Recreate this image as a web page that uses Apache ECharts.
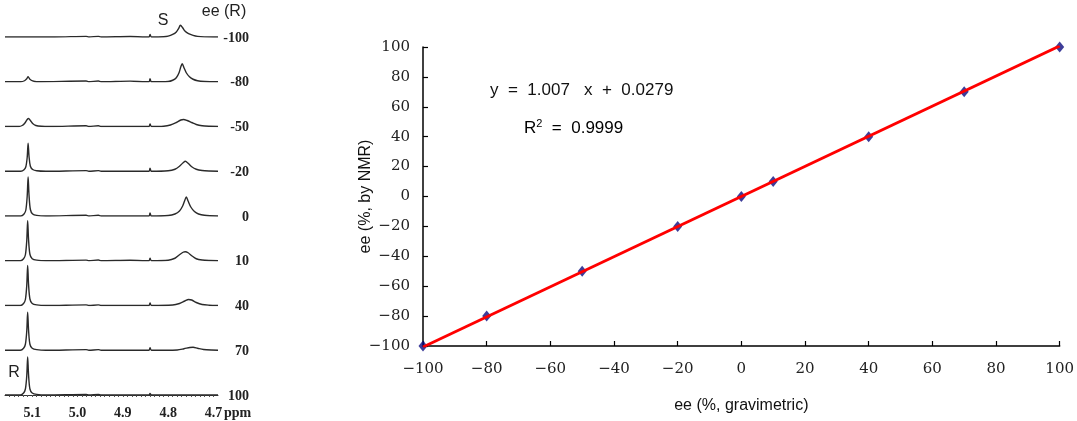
<!DOCTYPE html>
<html>
<head>
<meta charset="utf-8">
<script src="https://cdn.jsdelivr.net/npm/echarts@6.0.0/dist/echarts.min.js"></script>
<style>
  html, body { margin: 0; padding: 0; background: #fff; }
  #chart { width: 1077px; height: 421px; }
</style>
</head>
<body>
<div id="chart"></div>
<script>
// NMR spectra, [ppm, peak height], top (-100) to bottom (100)
const specLabels = ['-100', '-80', '-50', '-20', '0', '10', '40', '70', '100'];

const spec_m100 = [[5.16,0],[5.05,0],[4.981,0.8],[4.975,0],[4.954,0.8],[4.948,0],[4.884,0.6],[4.85,0],[4.842,0],[4.840,3],[4.837,0],
  [4.81,0.3],[4.80,1],[4.79,3],[4.782,6],[4.777,10],[4.773,14],[4.768,11],[4.763,7],[4.755,4],[4.745,2],[4.735,0.8],[4.72,0.2],[4.69,0]];
const spec_m80 = [[5.16,0],[5.125,0],[5.117,1],[5.112,3],[5.109,5],[5.105,2.5],[5.099,0.8],[5.09,0],[4.981,0.8],[4.975,0],[4.954,0.8],[4.948,0],
  [4.884,0.6],[4.85,0],[4.842,0],[4.840,3],[4.837,0],[4.80,0.3],[4.79,1.5],[4.782,4],[4.776,9],[4.772,15],[4.769,18],[4.765,14],[4.760,9],
  [4.753,5],[4.745,2.5],[4.735,1],[4.72,0.3],[4.69,0]];
const spec_m50 = [[5.16,0],[5.13,0],[5.122,1],[5.116,3.5],[5.111,7],[5.108,8],[5.104,6],[5.099,3],[5.092,1],[5.08,0.2],[5.06,0],[4.981,0.8],
  [4.975,0],[4.954,0.8],[4.948,0],[4.85,0],[4.842,0],[4.840,2.5],[4.837,0],[4.81,0.3],[4.795,1.5],[4.782,4],[4.772,6.5],[4.766,7],[4.758,6],
  [4.748,4],[4.738,2],[4.725,0.7],[4.71,0.2],[4.69,0]];
const spec_m20 = [[5.16,0],[5.125,0],[5.118,1.5],[5.114,4.5],[5.111,14],[5.109,28],[5.107,15],[5.104,5],[5.099,1.8],[5.09,0.5],[5.07,0],
  [4.981,0.6],[4.975,0],[4.954,0.6],[4.948,0],[4.85,0],[4.842,0],[4.840,3],[4.837,0],[4.80,0.5],[4.785,2],[4.775,5],[4.767,8.5],[4.762,10],
  [4.756,8],[4.748,4.5],[4.738,2],[4.725,0.7],[4.71,0.2],[4.69,0]];
const spec_0 = [[5.16,0],[5.125,0],[5.118,2],[5.114,6],[5.111,20],[5.109,39],[5.107,21],[5.104,6.5],[5.099,2],[5.09,0.6],[5.07,0],[4.981,0.8],
  [4.975,0],[4.954,0.8],[4.948,0],[4.85,0],[4.842,0],[4.840,3],[4.837,0],[4.80,0.5],[4.785,2],[4.775,5],[4.768,10],[4.763,16],[4.760,19],
  [4.756,15],[4.750,9],[4.742,4.5],[4.733,2],[4.72,0.7],[4.69,0]];
const spec_10 = [[5.16,0],[5.126,0],[5.119,2],[5.115,6],[5.112,20],[5.110,40],[5.108,21],[5.105,6.5],[5.100,2],[5.09,0.6],[5.07,0],[4.981,0.6],
  [4.975,0],[4.954,0.8],[4.948,0],[4.884,0.5],[4.85,0],[4.842,0],[4.840,2.5],[4.837,0],[4.80,0.5],[4.785,2.5],[4.775,6],[4.767,8.5],[4.762,9],
  [4.756,8],[4.748,5],[4.738,2],[4.725,0.7],[4.71,0.2],[4.69,0]];
const spec_40 = [[5.16,0],[5.126,0],[5.119,2],[5.115,6],[5.112,20],[5.110,40],[5.108,21],[5.105,6.5],[5.100,2],[5.09,0.6],[5.07,0],[4.981,0.6],
  [4.975,0],[4.954,0.6],[4.948,0],[4.85,0],[4.842,0],[4.840,2.5],[4.837,0],[4.79,0.5],[4.775,2],[4.763,4.5],[4.755,6],[4.748,5.5],[4.738,3],
  [4.725,1],[4.71,0.3],[4.69,0]];
const spec_70 = [[5.16,0],[5.126,0],[5.119,2],[5.115,6],[5.112,19],[5.110,38],[5.108,20],[5.105,6],[5.100,2],[5.09,0.6],[5.07,0],[4.981,0.6],
  [4.975,0],[4.954,0.6],[4.948,0],[4.85,0],[4.842,0],[4.840,2.5],[4.837,0],[4.78,0.3],[4.765,1.5],[4.752,2.8],[4.745,3],[4.735,2],[4.722,0.8],
  [4.705,0.2],[4.69,0]];
const spec_100 = [[5.16,0],[5.126,0],[5.119,2],[5.115,6],[5.112,19],[5.110,38],[5.108,20],[5.105,6],[5.100,2],[5.09,0.6],[5.07,0],[4.981,0.5],
  [4.975,0],[4.954,0.5],[4.948,0],[4.85,0],[4.842,0],[4.840,1.5],[4.837,0],[4.69,0]];
const spectra = [spec_m100, spec_m80, spec_m50, spec_m20, spec_0, spec_10, spec_40, spec_70, spec_100];

// calibration plot
const eeGrav = [-100, -80, -50, -20, 0, 10, 40, 70, 100];
const eeNMR = [-100, -80, -50, -20, 0, 10, 40, 70, 100];
const fitSlope = 1.007;
const fitIntercept = 0.0279;
const fitRange = [-100, 100];

const chart = echarts.init(document.getElementById('chart'));

const minus = v => String(v).replace('-', '\u2212');
const specFont = { fontFamily: 'Liberation Serif', fontWeight: 'bold', fontSize: 14, color: '#222' };

let grids = [], xAxes = [], yAxes = [], series = [], graphics = [];

spectra.forEach((d, i) => {
  const base = 37 + i * 44.75;
  const last = i === spectra.length - 1;
  grids.push({ left: 5, width: 213, top: base - 44, height: 44 });
  xAxes.push({
    gridIndex: i, type: 'value', min: 4.69, max: 5.16, inverse: true, interval: 0.01,
    show: last, offset: 8,
    axisLine: { show: true, lineStyle: { color: '#333', width: 1 } },
    axisTick: { show: true, length: 2, lineStyle: { color: '#555' } },
    splitLine: { show: false },
    axisLabel: Object.assign({
      margin: 3, showMinLabel: false, showMaxLabel: false,
      formatter: v => { const r = Math.round(v * 100); return r % 10 === 0 ? (r / 100).toFixed(1) : ''; }
    }, specFont)
  });
  yAxes.push({ gridIndex: i, type: 'value', min: 0, max: 44, show: false });
  series.push({
    type: 'line', xAxisIndex: i, yAxisIndex: i, data: d, showSymbol: false, smooth: 0.3,
    lineStyle: { color: '#2a2a2a', width: 1.4 }, silent: true
  });
  graphics.push({
    type: 'text', x: 249, y: base + 1,
    style: { text: specLabels[i], align: 'right', verticalAlign: 'middle', font: 'bold 14px "Liberation Serif"', fill: '#222' }
  });
});

graphics.push(
  { type: 'text', x: 224, y: 413, style: { text: 'ppm', font: 'bold 14px "Liberation Serif"', fill: '#222', verticalAlign: 'middle' } },
  { type: 'text', x: 163, y: 21, style: { text: 'S', font: '16px "Liberation Sans"', fill: '#222', align: 'center', verticalAlign: 'middle' } },
  { type: 'text', x: 224, y: 12, style: { text: 'ee (R)', font: '16px "Liberation Sans"', fill: '#222', align: 'center', verticalAlign: 'middle' } },
  { type: 'text', x: 14, y: 373, style: { text: 'R', font: '16px "Liberation Sans"', fill: '#222', align: 'center', verticalAlign: 'middle' } },
  { type: 'text', x: 490, y: 90, style: { text: 'y  =  1.007   x  +  0.0279', font: '17px "Liberation Sans"', fill: '#111', verticalAlign: 'middle' } },
  {
    type: 'text', x: 524, y: 128,
    style: {
      text: '{a|R}{s|2}{a|  =  0.9999}', verticalAlign: 'middle',
      rich: {
        a: { fontFamily: 'Liberation Sans', fontSize: 17, color: '#111' },
        s: { fontFamily: 'Liberation Sans', fontSize: 11, color: '#111', verticalAlign: 'top', padding: [0, 0, 8, 0] }
      }
    }
  }
);

// calibration grid
const g = grids.length;
grids.push({ left: 423, right: 15, top: 47, bottom: 75 });
const calAxis = {
  gridIndex: g, type: 'value', min: -100, max: 100, interval: 20,
  axisLine: { onZero: false, lineStyle: { color: '#000', width: 1.5 } },
  axisTick: { inside: true, length: 5, lineStyle: { color: '#000', width: 1.2 } },
  splitLine: { show: false },
  axisLabel: { fontFamily: 'DejaVu Serif', fontSize: 15, color: '#222', formatter: minus },
  nameLocation: 'middle', nameMoveOverlap: false,
  nameTextStyle: { fontFamily: 'Liberation Sans', fontSize: 16, color: '#111' }
};
xAxes.push(Object.assign({}, calAxis, { name: 'ee (%, gravimetric)', nameGap: 52, axisLabel: Object.assign({}, calAxis.axisLabel, { margin: 16 }) }));
yAxes.push(Object.assign({}, calAxis, { name: 'ee (%, by NMR)', nameGap: 49, axisLabel: Object.assign({}, calAxis.axisLabel, { margin: 13 }) }));

series.push({
  type: 'scatter', xAxisIndex: g, yAxisIndex: g, symbol: 'diamond', symbolSize: [9, 11],
  itemStyle: { color: '#0c0c80' }, z: 2,
  data: eeGrav.map((x, i) => [x, eeNMR[i]])
});
series.push({
  type: 'line', xAxisIndex: g, yAxisIndex: g, showSymbol: false, z: 3,
  lineStyle: { color: '#ff0000', width: 2.8 },
  data: fitRange.map(x => [x, fitSlope * x + fitIntercept])
});

chart.setOption({
  animation: false,
  grid: grids,
  xAxis: xAxes,
  yAxis: yAxes,
  series: series,
  graphic: graphics
});
</script>
</body>
</html>
